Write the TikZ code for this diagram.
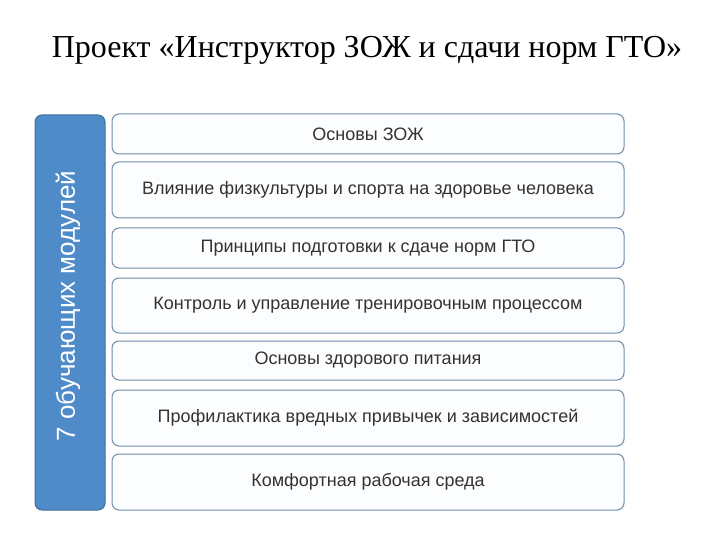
\documentclass[tikz,border=0pt]{standalone}
\usepackage{fontspec}
\setmainfont{Liberation Sans}
\newfontfamily\titlefont{Liberation Serif}
\definecolor{sidefill}{HTML}{4F8BC9}
\definecolor{sidedraw}{HTML}{41719C}
\definecolor{boxdraw}{HTML}{6F8CA8}
\definecolor{boxfill}{HTML}{FBFDFF}
\begin{document}
\begin{tikzpicture}[x=1pt,y=-1pt,
  modbox/.style={draw=boxdraw,line width=1pt,rounded corners=7pt,fill=boxfill},
  modtext/.style={font=\fontsize{18}{20}\selectfont,text=black!80}]
\useasboundingbox (0,0) rectangle (720,540);
\node[font=\titlefont\fontsize{32}{36}\selectfont] (title) at (367,50) {Проект «Инструктор ЗОЖ и сдачи норм ГТО»};
\draw[fill=sidefill,draw=sidedraw,line width=1pt,rounded corners=7pt] (35,115) rectangle (105,510);
\node[rotate=90,text=white,font=\fontsize{26}{30}\selectfont] (side) at (68,306) {7 обучающих модулей};
\foreach \n/\a/\b/\t in {m1/114/154/{Основы ЗОЖ},m2/162/218/{Влияние физкультуры и спорта на здоровье человека},m3/228/268/{Принципы подготовки к сдаче норм ГТО},m4/278/333/{Контроль и управление тренировочным процессом},m5/341/380/{Основы здорового питания},m6/390/446/{Профилактика вредных привычек и зависимостей},m7/454/510/{Комфортная рабочая среда}}{
  \draw[modbox] (112,\a) rectangle (624,\b);
  \node[modtext] (\n) at (368,{(\a+\b)/2}) {\t};
}
\end{tikzpicture}
\end{document}
